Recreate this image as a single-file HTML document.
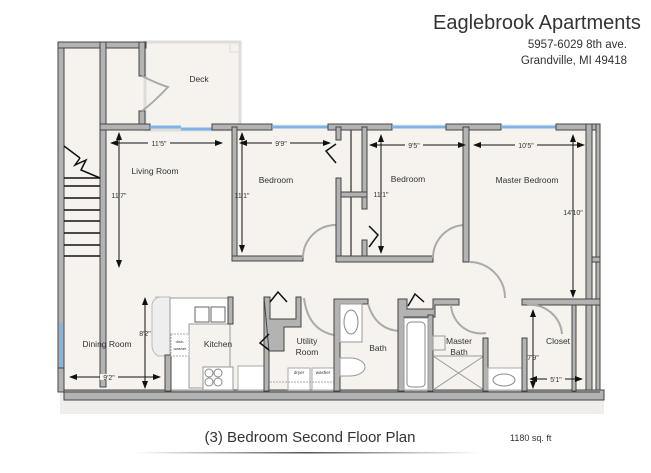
<!DOCTYPE html>
<html><head><style>
body{margin:0;background:#fff;width:651px;height:473px;overflow:hidden}
svg{display:block}
text{font-family:"Liberation Sans",sans-serif;fill:#333}
.w{fill:#b3b3b3;stroke:#444;stroke-width:1}
.win{stroke:#7fb2e5;stroke-width:3}
.d{fill:none;stroke:#aaa;stroke-width:2}
.dim{stroke:#111;stroke-width:1}
.f{fill:#fff;stroke:#999;stroke-width:0.8}
</style></head><body>
<svg width="651" height="473" viewBox="0 0 651 473">
<defs><marker id="a" markerWidth="8" markerHeight="8" refX="7" refY="4" orient="auto-start-reverse"><path d="M0,1 L8,4 L0,7 Z" fill="#111"/></marker>
<linearGradient id="g" x1="0" x2="1"><stop offset="0" stop-color="#fff"/><stop offset=".5" stop-color="#555"/><stop offset="1" stop-color="#fff"/></linearGradient></defs>
<!-- floor -->
<rect x="60" y="392" width="544" height="22" fill="#f0eeea"/>
<rect x="58" y="42" width="90" height="90" fill="#f6f3ee"/>
<rect x="145" y="42" width="95" height="88" fill="#f6f3ee"/>
<rect x="58" y="124" width="542" height="268" fill="#f6f3ee"/>
<!-- deck -->
<rect x="145" y="42" width="95" height="88" fill="none" stroke="#ddd" stroke-width="3"/>
<rect x="230" y="42" width="10" height="10" fill="none" stroke="#ddd"/>
<!-- outer walls -->
<rect class="w" x="58" y="42" width="6" height="348"/>
<rect class="w" x="58" y="42" width="88" height="6"/>
<rect class="w" x="100" y="42" width="6" height="345"/>
<rect class="w" x="139" y="42" width="6" height="34"/>
<rect class="w" x="139" y="111" width="6" height="18"/>
<rect class="w" x="100" y="124" width="50" height="6"/>
<rect class="w" x="58" y="321" width="6" height="0" />
<!-- top wall -->
<line class="win" x1="150" y1="127" x2="181" y2="127"/><line class="win" x1="181" y1="129" x2="212" y2="129"/>
<rect class="w" x="212" y="124" width="60" height="6"/>
<line class="win" x1="272" y1="127" x2="328" y2="127"/>
<rect class="w" x="328" y="124" width="64" height="6"/>
<line class="win" x1="392" y1="127" x2="446" y2="127"/>
<rect class="w" x="446" y="124" width="55" height="6"/>
<line class="win" x1="501" y1="127" x2="556" y2="127"/>
<rect class="w" x="556" y="124" width="44" height="6"/>
<!-- right wall -->
<rect class="w" x="586" y="124" width="6" height="268"/>
<rect class="w" x="596" y="124" width="4" height="268"/>
<rect class="w" x="592" y="257" width="8" height="5"/>
<rect class="w" x="522" y="299" width="78" height="6"/>
<!-- left window -->
<line class="win" x1="61" y1="323" x2="61" y2="368"/>
<!-- bottom wall -->
<rect class="w" x="58" y="368" width="6" height="24"/>
<rect class="w" x="64" y="390" width="540" height="10"/>
<line x1="64" y1="392" x2="600" y2="392" stroke="#444"/>
<!-- stairs -->
<g stroke="#111" stroke-width="1.5">
<line x1="64" y1="146" x2="80" y2="158"/><polyline fill="none" points="80,158 75,165 86,160 81,170 100,178"/>
<line x1="64" y1="178" x2="100" y2="178"/><line x1="64" y1="186" x2="100" y2="186"/><line x1="64" y1="198" x2="100" y2="198"/><line x1="64" y1="210" x2="100" y2="210"/><line x1="64" y1="221" x2="100" y2="221"/><line x1="64" y1="233" x2="100" y2="233"/><line x1="64" y1="245" x2="100" y2="245"/><line x1="64" y1="256" x2="100" y2="256"/>
</g>
<!-- deck door -->
<path class="d" d="M142,76 Q158,84 168,87 Q154,102 142,111"/>
<!-- bedroom1 -->
<rect class="w" x="232" y="127" width="5" height="134"/>
<rect class="w" x="232" y="256" width="71" height="5"/>
<path class="d" d="M303,258 A33,33 0 0 1 336,225"/>
<!-- closets between bedrooms -->
<rect class="w" x="336" y="127" width="5" height="13"/>
<rect class="w" x="336" y="178" width="5" height="84"/>
<line x1="351" y1="130" x2="351" y2="258" stroke="#555" stroke-width="1.5"/>
<rect class="w" x="362" y="127" width="5" height="82"/>
<rect class="w" x="341" y="192" width="26" height="5"/>
<rect class="w" x="362" y="240" width="5" height="22"/>
<rect class="w" x="336" y="256" width="97" height="6"/>
<polyline fill="none" stroke="#111" stroke-width="1.5" points="336,144 326,151 336,163"/>
<polyline fill="none" stroke="#111" stroke-width="1.5" points="369,226 378,235 369,247"/>
<path class="d" d="M433,258 A33,33 0 0 1 464,225"/>
<rect class="w" x="463" y="127" width="6" height="135"/>
<path class="d" d="M469,262 A36,36 0 0 1 505,298"/>
<!-- kitchen -->
<path d="M155,297 L170,297 L170,356 L158,356 Q152,352 152,346 L152,305 Q153,298 160,297 Z" fill="#eee" stroke="#bbb"/>
<rect x="170" y="298" width="60" height="92" fill="#fff" stroke="#999"/>
<rect x="189" y="324" width="41" height="64" fill="#f6f3ee" stroke="#999"/>
<rect x="195" y="307" width="14" height="15" fill="#fff" stroke="#666"/><rect x="211" y="307" width="14" height="15" fill="#fff" stroke="#666"/>
<rect class="w" x="228" y="297" width="5" height="27"/>
<rect class="w" x="165" y="355" width="6" height="36"/>
<rect x="171" y="334" width="18" height="22" fill="#fff" stroke="#aaa" stroke-dasharray="2,1"/>
<rect x="203" y="367" width="30" height="23" fill="#fff" stroke="#999"/>
<g fill="none" stroke="#888"><circle cx="209" cy="373" r="4"/><circle cx="218" cy="373" r="4"/><circle cx="209" cy="382" r="4"/><circle cx="218" cy="382" r="4"/></g>
<rect x="238" y="366" width="28" height="24" fill="#fff" stroke="#aaa"/>
<!-- utility -->
<rect class="w" x="264" y="297" width="5" height="94"/>
<path class="w" d="M264,297 h6 v22 h26 v-22 h5 v30 h-17 v24 h-15 z"/>
<polyline fill="none" stroke="#111" stroke-width="1.5" points="270,302 278,292 287,302"/>
<polyline fill="none" stroke="#111" stroke-width="1.5" points="269,334 260,343 269,350"/>
<path class="d" d="M304,298 Q308,330 334,335"/>
<rect x="288" y="368" width="22" height="22" fill="#fff" stroke="#aaa"/>
<rect x="312" y="368" width="22" height="22" fill="#fff" stroke="#aaa"/>
<line x1="270" y1="382" x2="334" y2="382" stroke="#aaa" stroke-dasharray="2,1"/>
<!-- bath -->
<path class="w" d="M334,299 h34 v5 h-28 v87 h-6 z"/>
<rect x="340" y="304" width="22" height="38" fill="#fff" stroke="#999"/>
<ellipse cx="351" cy="322" rx="7" ry="12" fill="#fff" stroke="#888"/>
<path d="M340,358 h10 a15,9 0 1 1 0,18 h-10 z" fill="#fff" stroke="#999"/>
<path class="d" d="M368,304 Q376,330 400,331"/>
<path class="w" d="M398,299 h9 v10 h26 v-10 h26 v6 h-24 v12 h-31 v74 h-6 z"/>
<polyline fill="none" stroke="#111" stroke-width="1.5" points="408,306 415,294 424,302"/>
<rect class="w" x="428" y="315" width="5" height="76"/>
<rect x="404" y="318" width="24" height="72" fill="#fff" stroke="#999"/>
<rect x="407" y="322" width="18" height="65" rx="4" fill="#fff" stroke="#888"/>
<g stroke="#999" fill="none"><line x1="433" y1="356" x2="484" y2="356"/><line x1="433" y1="356" x2="484" y2="390"/><line x1="484" y1="356" x2="433" y2="390"/><rect x="433" y="336" width="12" height="14"/></g>
<path class="d" d="M451,305 A30,30 0 0 0 486,333"/>
<rect class="w" x="483" y="338" width="5" height="53"/>
<rect x="488" y="368" width="34" height="22" fill="#fff" stroke="#aaa"/>
<ellipse cx="504" cy="380" rx="11" ry="6" fill="#fff" stroke="#888"/>
<rect class="w" x="522" y="338" width="5" height="53"/>
<path class="d" d="M527,305 A32,32 0 0 1 562,334"/>
<rect class="w" x="572" y="305" width="4" height="86"/>
<!-- dimensions -->
<g class="dim" marker-start="url(#a)" marker-end="url(#a)">
<line x1="111" y1="143" x2="222" y2="143"/><line x1="119" y1="133" x2="119" y2="267"/>
<line x1="240" y1="143" x2="330" y2="143"/><line x1="242" y1="133" x2="242" y2="252"/>
<line x1="370" y1="145" x2="465" y2="145"/><line x1="381" y1="135" x2="381" y2="253"/>
<line x1="474" y1="145" x2="584" y2="145"/><line x1="573" y1="135" x2="573" y2="297"/>
<line x1="70" y1="377" x2="160" y2="377"/><line x1="145" y1="298" x2="145" y2="388"/>
<line x1="533" y1="310" x2="533" y2="388"/><line x1="530" y1="379" x2="582" y2="379"/>
</g>
<g font-size="7" text-anchor="middle">
<rect x="148" y="140" width="22" height="6" fill="#f6f3ee"/><text x="159" y="146">11'5"</text>
<rect x="272" y="140" width="18" height="6" fill="#f6f3ee"/><text x="281" y="146">9'9"</text>
<rect x="405" y="142" width="18" height="6" fill="#f6f3ee"/><text x="414" y="148">9'5"</text>
<rect x="515" y="142" width="22" height="6" fill="#f6f3ee"/><text x="526" y="148">10'5"</text>
<rect x="100" y="374" width="18" height="6" fill="#f6f3ee"/><text x="109" y="380">9'2"</text>
<rect x="547" y="376" width="18" height="6" fill="#f6f3ee"/><text x="556" y="382">5'1"</text>
<text x="119" y="198">11'7"</text><text x="242" y="198">11'1"</text><text x="381" y="197">11'1"</text>
<text x="573" y="215">14'10"</text><text x="145" y="336">8'2"</text><text x="533" y="360">7'9"</text>
<text x="299" y="374" font-size="4.5">dryer</text><text x="323" y="374" font-size="4.5">washer</text>
<text x="180" y="343" font-size="4">dish-</text><text x="180" y="350" font-size="4">washer</text>
</g>
<g font-size="8.5" text-anchor="middle">
<text x="199" y="82">Deck</text><text x="155" y="174">Living Room</text><text x="276" y="183">Bedroom</text>
<text x="408" y="182">Bedroom</text><text x="527" y="183">Master Bedroom</text><text x="107" y="347">Dining Room</text>
<text x="218" y="347">Kitchen</text><text x="307" y="344">Utility</text><text x="307" y="355">Room</text>
<text x="378" y="351">Bath</text><text x="459" y="344">Master</text><text x="459" y="355">Bath</text><text x="558" y="344">Closet</text>
</g>
<!-- titles -->
<text x="433" y="29" font-size="20" fill="#222">Eaglebrook Apartments</text>
<text x="627" y="48" font-size="11.5" text-anchor="end">5957-6029 8th ave.</text>
<text x="627" y="64" font-size="11.5" text-anchor="end">Grandville, MI 49418</text>
<text x="310" y="442" font-size="15" text-anchor="middle">(3) Bedroom Second Floor Plan</text>
<text x="510" y="441" font-size="9">1180 sq. ft</text>
<rect x="135" y="452" width="345" height="1.5" fill="url(#g)"/>
</svg>
</body></html>
